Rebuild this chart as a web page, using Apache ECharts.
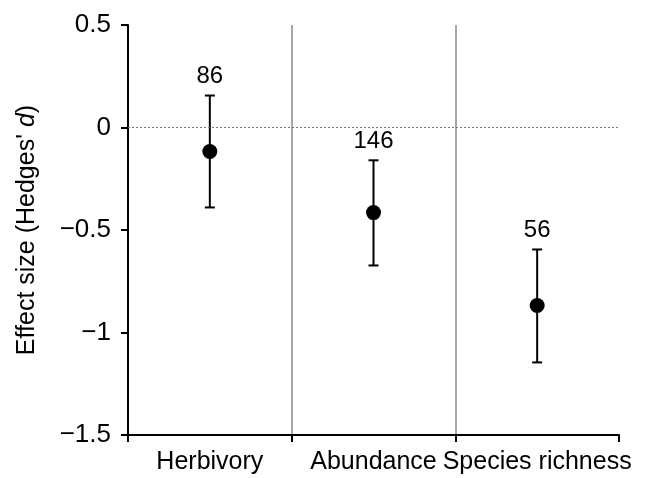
<!DOCTYPE html>
<html>
<head>
<meta charset="utf-8">
<script src="https://cdn.jsdelivr.net/npm/echarts@6/dist/echarts.min.js"></script>
<style>
  html, body { margin: 0; padding: 0; background: #fff; }
  #chart { width: 666px; height: 478px; }
</style>
</head>
<body>
<div id="chart"></div>
<script>
// values
const categories = ["Herbivory", "Abundance", "Species richness"];
const means = [-0.117, -0.415, -0.868];
const lower = [-0.39, -0.673, -1.146];
const upper = [0.156, -0.16, -0.595];
const sampleSizes = [86, 146, 56];
const yTicks = [-1.5, -1, -0.5, 0, 0.5];

const font = "'Liberation Sans', Arial, sans-serif";

function fmt(v) {
  if (v === 0) return "0";
  return v < 0 ? "\u2212" + Math.abs(v) : String(v);
}

const chart = echarts.init(document.getElementById("chart"));

const errData = categories.map((c, i) => [i, lower[i], upper[i], sampleSizes[i]]);

chart.setOption({
  animation: false,
  grid: { left: 128, right: 47, top: 25, bottom: 43 },
  xAxis: {
    type: "category",
    data: categories,
    boundaryGap: true,
    axisLine: { onZero: false, lineStyle: { color: "#000", width: 2 } },
    axisTick: { show: true, interval: 0, length: 7, lineStyle: { color: "#000", width: 2 } },
    axisLabel: { interval: 0, color: "#000", fontSize: 25, fontFamily: font, margin: 15 },
    splitLine: {
      show: true, interval: 0, showMinLine: false, showMaxLine: false,
      lineStyle: { color: "#8a8a8a", width: 1.5 }
    }
  },
  yAxis: {
    type: "value",
    min: yTicks[0],
    max: yTicks[yTicks.length - 1],
    interval: 0.5,
    name: "{n|Effect size (Hedges' }{i|d}{n|)}",
    nameLocation: "middle",
    nameGap: 88,
    nameTextStyle: {
      rich: {
        n: { fontSize: 25, fontFamily: font, color: "#000" },
        i: { fontSize: 25, fontFamily: font, color: "#000", fontStyle: "italic" }
      }
    },
    axisLine: { show: true, lineStyle: { color: "#000", width: 2 } },
    axisTick: { show: true, length: 7, lineStyle: { color: "#000", width: 2 } },
    axisLabel: { color: "#000", fontSize: 26, fontFamily: font, margin: 17, formatter: fmt },
    splitLine: { show: false }
  },
  series: [
    {
      type: "custom",
      data: errData,
      renderItem: function (params, api) {
        const x = api.coord([api.value(0), 0])[0];
        const lo = api.coord([api.value(0), api.value(1)])[1];
        const hi = api.coord([api.value(0), api.value(2)])[1];
        const cap = 5;
        const st = { stroke: "#000", lineWidth: 2 };
        return {
          type: "group",
          children: [
            { type: "line", shape: { x1: x, y1: hi, x2: x, y2: lo }, style: st },
            { type: "line", shape: { x1: x - cap, y1: hi, x2: x + cap, y2: hi }, style: st },
            { type: "line", shape: { x1: x - cap, y1: lo, x2: x + cap, y2: lo }, style: st },
            {
              type: "text",
              x: x,
              y: hi - 7,
              style: {
                text: String(api.value(3)),
                fill: "#000",
                fontSize: 24,
                fontFamily: font,
                align: "center",
                verticalAlign: "bottom"
              }
            }
          ]
        };
      },
      markLine: {
        silent: true,
        symbol: "none",
        label: { show: false },
        lineStyle: { color: "#777", type: [2, 2], width: 1 },
        data: [{ yAxis: 0 }]
      },
      z: 2
    },
    {
      type: "scatter",
      data: means.map((m, i) => [i, m]),
      symbol: "circle",
      symbolSize: 15,
      itemStyle: { color: "#000", opacity: 1 },
      z: 3
    }
  ]
});
</script>
</body>
</html>
